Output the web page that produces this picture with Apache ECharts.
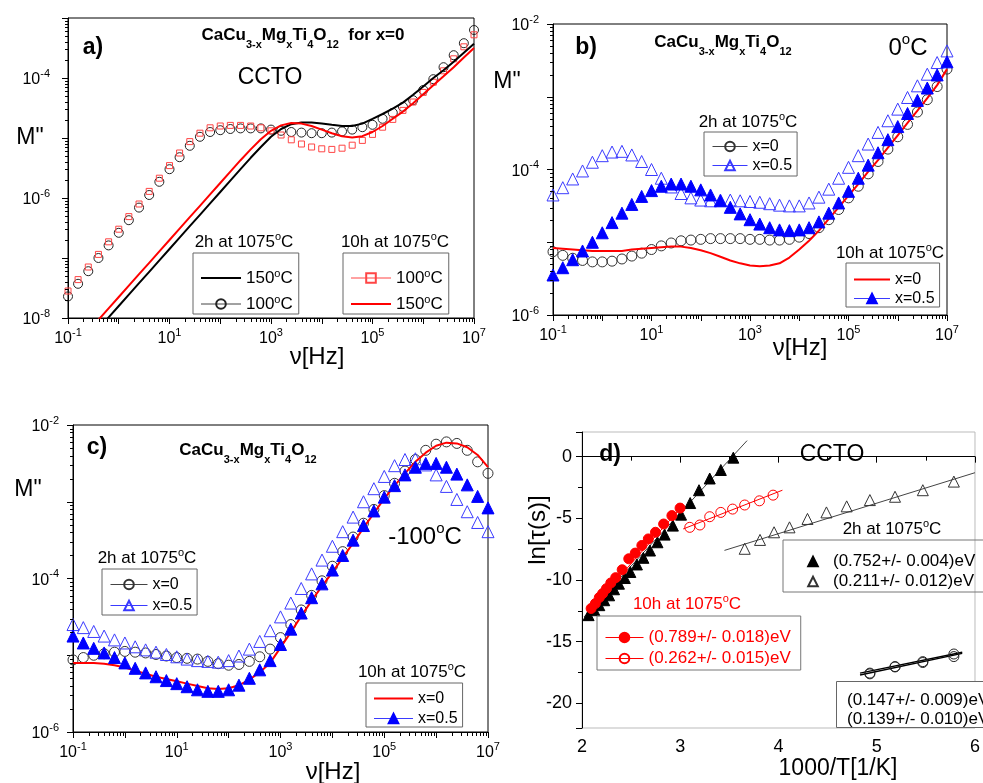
<!DOCTYPE html>
<html><head><meta charset="utf-8">
<script src="https://cdn.jsdelivr.net/npm/echarts@6/dist/echarts.min.js"></script>
<style>html,body{margin:0;padding:0;background:#fff}#c{width:983px;height:783px}</style>
</head><body><div id="c"></div><script>
const F = '"Liberation Sans", Arial, sans-serif';
// measurement frequencies (Hz), shared by panels a-c
const freq = [0.1,0.158,0.251,0.398,0.631,1,1.58,2.51,3.98,6.31,10,15.8,25.1,39.8,63.1,100,158,251,398,631,1000,1580,2510,3980,6310,1e4,1.58e4,2.51e4,3.98e4,6.31e4,1e5,1.58e5,2.51e5,3.98e5,6.31e5,1e6,1.58e6,2.51e6,3.98e6,6.31e6,1e7];
// values below are log10(M'')
// panel a
const a_2h_100C = [-7.64,-7.43,-7.22,-7.00,-6.79,-6.58,-6.37,-6.16,-5.95,-5.73,-5.52,-5.32,-5.13,-4.98,-4.90,-4.87,-4.85,-4.84,-4.84,-4.84,-4.86,-4.88,-4.90,-4.91,-4.92,-4.92,-4.91,-4.89,-4.86,-4.82,-4.78,-4.68,-4.58,-4.48,-4.37,-4.20,-4.02,-3.82,-3.62,-3.42,-3.20];
const a_10h_100C = [-7.55,-7.36,-7.15,-6.94,-6.73,-6.52,-6.31,-6.10,-5.89,-5.67,-5.46,-5.25,-5.06,-4.92,-4.83,-4.80,-4.79,-4.79,-4.80,-4.83,-4.88,-4.95,-5.03,-5.10,-5.15,-5.18,-5.19,-5.17,-5.12,-5.04,-4.94,-4.82,-4.69,-4.54,-4.40,-4.24,-4.07,-3.88,-3.68,-3.48,-3.28];
const a_2h_150C = [-8.75,-8.56,-8.37,-8.18,-7.99,-7.80,-7.61,-7.42,-7.23,-7.04,-6.85,-6.66,-6.47,-6.28,-6.09,-5.90,-5.71,-5.52,-5.33,-5.15,-4.98,-4.85,-4.77,-4.74,-4.74,-4.76,-4.78,-4.80,-4.80,-4.76,-4.68,-4.60,-4.51,-4.41,-4.28,-4.14,-4.00,-3.87,-3.73,-3.58,-3.43];
const a_10h_150C = [-8.60,-8.41,-8.22,-8.03,-7.84,-7.65,-7.46,-7.27,-7.08,-6.89,-6.70,-6.51,-6.32,-6.13,-5.94,-5.75,-5.56,-5.37,-5.19,-5.02,-4.88,-4.79,-4.75,-4.76,-4.80,-4.86,-4.92,-4.97,-4.99,-4.97,-4.90,-4.80,-4.68,-4.56,-4.42,-4.27,-4.12,-3.97,-3.82,-3.66,-3.50];
// panel b (0 C)
const b_2h_x0 = [-5.13,-5.18,-5.22,-5.25,-5.27,-5.27,-5.26,-5.23,-5.19,-5.15,-5.10,-5.05,-5.01,-4.98,-4.97,-4.96,-4.95,-4.95,-4.95,-4.95,-4.96,-4.96,-4.97,-4.97,-4.96,-4.93,-4.88,-4.80,-4.69,-4.55,-4.39,-4.23,-4.06,-3.89,-3.72,-3.55,-3.38,-3.21,-3.04,-2.86,-2.62];
const b_2h_x05 = [-4.35,-4.25,-4.13,-4.02,-3.90,-3.81,-3.76,-3.75,-3.80,-3.89,-4.00,-4.12,-4.24,-4.33,-4.39,-4.42,-4.43,-4.42,-4.42,-4.43,-4.44,-4.45,-4.47,-4.49,-4.50,-4.50,-4.46,-4.38,-4.27,-4.12,-3.97,-3.81,-3.65,-3.49,-3.33,-3.17,-3.01,-2.85,-2.69,-2.53,-2.37];
const b_10h_x0 = [-5.08,-5.09,-5.10,-5.11,-5.12,-5.12,-5.12,-5.12,-5.10,-5.09,-5.08,-5.07,-5.06,-5.06,-5.08,-5.11,-5.15,-5.20,-5.25,-5.29,-5.32,-5.33,-5.32,-5.29,-5.21,-5.10,-4.98,-4.84,-4.68,-4.52,-4.36,-4.20,-4.03,-3.87,-3.70,-3.53,-3.36,-3.19,-3.02,-2.84,-2.62];
const b_10h_x05 = [-5.45,-5.35,-5.24,-5.12,-5.00,-4.87,-4.73,-4.60,-4.48,-4.37,-4.29,-4.23,-4.20,-4.20,-4.23,-4.28,-4.35,-4.43,-4.52,-4.61,-4.69,-4.75,-4.80,-4.83,-4.84,-4.83,-4.80,-4.72,-4.60,-4.46,-4.30,-4.12,-3.94,-3.77,-3.59,-3.41,-3.23,-3.05,-2.88,-2.70,-2.52];
// panel c (-100 C)
const c_2h_x0 = [-5.06,-5.03,-5.00,-4.98,-4.96,-4.95,-4.96,-4.97,-4.99,-5.01,-5.03,-5.04,-5.05,-5.08,-5.11,-5.13,-5.12,-5.08,-5.02,-4.92,-4.77,-4.60,-4.41,-4.22,-4.03,-3.84,-3.65,-3.46,-3.28,-3.10,-2.92,-2.76,-2.60,-2.45,-2.33,-2.25,-2.22,-2.24,-2.33,-2.48,-2.63];
const c_2h_x05 = [-4.60,-4.64,-4.69,-4.75,-4.80,-4.84,-4.89,-4.93,-4.96,-4.99,-5.02,-5.05,-5.07,-5.08,-5.09,-5.07,-5.01,-4.92,-4.82,-4.68,-4.50,-4.32,-4.13,-3.94,-3.76,-3.58,-3.39,-3.20,-3.00,-2.83,-2.67,-2.53,-2.45,-2.44,-2.52,-2.65,-2.80,-2.97,-3.13,-3.27,-3.39];
const c_10h_x0 = [-5.10,-5.10,-5.10,-5.11,-5.13,-5.16,-5.20,-5.24,-5.28,-5.31,-5.34,-5.37,-5.40,-5.43,-5.44,-5.43,-5.39,-5.32,-5.22,-5.10,-4.90,-4.70,-4.49,-4.29,-4.10,-3.92,-3.73,-3.54,-3.34,-3.15,-2.96,-2.79,-2.63,-2.48,-2.36,-2.27,-2.23,-2.24,-2.29,-2.39,-2.55];
const c_10h_x05 = [-4.75,-4.84,-4.91,-4.97,-5.03,-5.10,-5.17,-5.23,-5.28,-5.33,-5.37,-5.41,-5.45,-5.47,-5.47,-5.45,-5.39,-5.30,-5.19,-5.07,-4.86,-4.66,-4.45,-4.25,-4.07,-3.89,-3.70,-3.50,-3.31,-3.12,-2.94,-2.79,-2.65,-2.55,-2.50,-2.50,-2.55,-2.64,-2.78,-2.93,-3.08];
// panel d: 1000/T and ln(tau)
const d_752_x = [2.067,2.126,2.176,2.226,2.276,2.326,2.376,2.436,2.492,2.559,2.625,2.692,2.768,2.841,2.925,3.008,3.101,3.191,3.300,3.413,3.540];
const d_752_y = [-12.85,-12.45,-12.04,-11.64,-11.24,-10.75,-10.30,-9.84,-9.35,-8.74,-8.20,-7.61,-6.94,-6.32,-5.59,-4.70,-3.76,-2.72,-1.77,-1.08,-0.08];
const d_211_x = [3.656,3.812,3.955,4.112,4.295,4.488,4.694,4.930,5.186,5.469,5.785];
const d_211_y = [-7.47,-6.75,-6.13,-5.73,-5.05,-4.52,-4.03,-3.52,-3.25,-2.72,-2.02];
const d_789_x = [2.093,2.136,2.176,2.210,2.249,2.293,2.343,2.409,2.476,2.542,2.609,2.675,2.748,2.831,2.915,2.998];
const d_789_y = [-12.31,-11.91,-11.42,-11.10,-10.70,-10.24,-9.81,-9.17,-8.28,-7.82,-7.20,-6.67,-6.13,-5.46,-4.78,-4.17];
const d_262_x = [3.097,3.200,3.300,3.413,3.533,3.656,3.806,3.945];
const d_262_y = [-5.73,-5.54,-4.87,-4.52,-4.25,-3.92,-3.58,-3.12];
const d_147_x = [4.930,5.186,5.469,5.785];
const d_147_y = [-17.61,-17.02,-16.69,-16.21];
const d_139_x = [4.930,5.186,5.469,5.785];
const d_139_y = [-17.55,-17.05,-16.62,-16.00];
// fitted straight lines [x0,x1], [y0,y1]
const fit_752 = [[2.02,3.68],[-13.0,1.3]];
const fit_211 = [[3.45,6.0],[-7.6,-1.3]];
const fit_789 = [[2.05,3.0],[-12.7,-4.2]];
const fit_262 = [[3.03,4.04],[-5.86,-2.72]];
const fit_147 = [[4.83,5.87],[-17.7,-15.95]];
const fit_139 = [[4.83,5.87],[-17.55,-15.85]];

const chart = echarts.init(document.getElementById('c'), null, {renderer:'canvas'});
const pts = lg => freq.map((f,i)=>[f, Math.pow(10, lg[i])]);
const pair = (xs,ys) => xs.map((x,i)=>[x,ys[i]]);

const AR = {b:{fontFamily:F,fontSize:16,lineHeight:20,verticalAlign:'bottom',color:'#000'},
            s:{fontFamily:F,fontSize:11,lineHeight:8,verticalAlign:'top',color:'#000'}};
const expOf = v => Math.round(Math.log10(v));
const xFmt = v => { const e = expOf(v); return Math.abs(e%2)===1 ? '{b|10}{s|'+e+'}' : ''; };
const yFmt = v => { const e = expOf(v); return e%2===0 ? '{b|10}{s|'+e+'}' : ''; };
function minorVals(e0,e1){ const r=[]; for(let e=e0;e<e1;e++) for(let k=2;k<10;k++) r.push(k*Math.pow(10,e)); return r; }

const logX = (gi,min,max)=>({type:'log',logBase:10,gridIndex:gi,min,max,interval:1,position:'bottom',
   axisLine:{lineStyle:{color:'#000',width:1}},axisTick:{length:6,lineStyle:{color:'#000'}},
   splitLine:{show:false},axisLabel:{formatter:xFmt,rich:AR,margin:9,showMinLabel:true,showMaxLabel:true}});
const logY = (gi,min,max,margin)=>({type:'log',logBase:10,gridIndex:gi,min,max,interval:1,position:'left',
   axisLine:{lineStyle:{color:'#000',width:1}},axisTick:{length:6,lineStyle:{color:'#000'}},
   splitLine:{show:false},axisLabel:{formatter:yFmt,rich:AR,margin}});

const xAxis = [logX(0,0.1,1e7), logX(1,0.1,1e7), logX(2,0.1,1e7),
  {type:'value',gridIndex:3,min:2,max:6,interval:1,position:'bottom',axisLine:{lineStyle:{color:'#000'}},
   axisTick:{length:6,lineStyle:{color:'#000'}},minorTick:{show:true,splitNumber:2,length:4,lineStyle:{color:'#000'}},
   splitLine:{show:false},axisLabel:{fontFamily:F,fontSize:18,color:'#000',margin:10}}];
const yAxis = [logY(0,1e-8,1e-3,18), logY(1,1e-6,1e-2,14), logY(2,1e-6,1e-2,14),
  {type:'value',gridIndex:3,min:-22,max:2,splitNumber:5,position:'left',axisLine:{lineStyle:{color:'#000'}},
   axisTick:{length:6,lineStyle:{color:'#000'}},minorTick:{show:true,splitNumber:2,length:4,lineStyle:{color:'#000'}},
   splitLine:{show:false},axisLabel:{fontFamily:F,fontSize:18,color:'#000',margin:10,formatter:v=>(v%5===0?String(v):'')}}];

const grid = [
  {left:68,top:18,width:406,height:300,show:true,borderColor:'#000',borderWidth:1},
  {left:553,top:24,width:394,height:291,show:true,borderColor:'#000',borderWidth:1},
  {left:73,top:425,width:415,height:307,show:true,borderColor:'#000',borderWidth:1},
  {left:582,top:432,width:402,height:296,show:true,borderColor:'#bbb',borderWidth:1}];

function mark(name, data, gi, sym, size, color, filled, z){
  return {name,type:'line',xAxisIndex:gi,yAxisIndex:gi,data,symbol:sym,symbolSize:size,showSymbol:true,
    itemStyle:{color:filled?color:'rgba(255,255,255,0)',borderColor:color,borderWidth:1},
    lineStyle:{width:0,opacity:0},emphasis:{disabled:true},z:z||2,animation:false,clip:true};
}
function curve(name, data, gi, color, width, z){
  return {name,type:'line',xAxisIndex:gi,yAxisIndex:gi,data,symbol:'none',
    itemStyle:{color},lineStyle:{width,color},emphasis:{disabled:true},z:z||3,animation:false,clip:true};
}
const RED='#ff0000', BLUE='#0000ff', LBLUE='#3a3aff';
const series = [
  mark('a2_100', pts(a_2h_100C), 0, 'circle', 9, '#222', false, 2),
  mark('a10_100', pts(a_10h_100C), 0, 'rect', 6, '#ff4545', false, 3),
  curve('a2_150', pts(a_2h_150C), 0, '#000', 2, 4),
  curve('a10_150', pts(a_10h_150C), 0, RED, 2, 5),
  mark('b2_0', pts(b_2h_x0), 1, 'circle', 10, '#333', false, 2),
  mark('b2_05', pts(b_2h_x05), 1, 'triangle', 12, LBLUE, false, 2),
  curve('b10_0', pts(b_10h_x0), 1, RED, 2, 3),
  mark('b10_05', pts(b_10h_x05), 1, 'triangle', 12, BLUE, true, 4),
  mark('c2_0', pts(c_2h_x0), 2, 'circle', 10, '#333', false, 2),
  mark('c2_05', pts(c_2h_x05), 2, 'triangle', 12, LBLUE, false, 2),
  curve('c10_0', pts(c_10h_x0), 2, RED, 2, 3),
  mark('c10_05', pts(c_10h_x05), 2, 'triangle', 12, BLUE, true, 4),
  curve('fit752', pair(fit_752[0],fit_752[1]), 3, '#444', 1, 1),
  curve('fit211', pair(fit_211[0],fit_211[1]), 3, '#444', 1, 1),
  curve('fit789', pair(fit_789[0],fit_789[1]), 3, RED, 1, 1),
  curve('fit262', pair(fit_262[0],fit_262[1]), 3, RED, 1, 1),
  curve('fit147', pair(fit_147[0],fit_147[1]), 3, '#000', 1.5, 1),
  curve('fit139', pair(fit_139[0],fit_139[1]), 3, '#000', 1.5, 1),
  mark('d752', pair(d_752_x,d_752_y), 3, 'triangle', 11, '#000', true, 2),
  mark('d211', pair(d_211_x,d_211_y), 3, 'triangle', 11, '#333', false, 2),
  mark('d789', pair(d_789_x,d_789_y), 3, 'circle', 10, RED, true, 3),
  mark('d262', pair(d_262_x,d_262_y), 3, 'circle', 10, RED, false, 3),
  mark('d147', pair(d_147_x,d_147_y), 3, 'circle', 10, '#222', false, 3),
  mark('d139', pair(d_139_x,d_139_y), 3, 'circle', 10, '#222', false, 3)
];

const LT = {a2_150:'150{o|o}C',a2_100:'100{o|o}C',a10_100:'100{o|o}C',a10_150:'150{o|o}C',
  b2_0:'x=0',b2_05:'x=0.5',b10_0:'x=0',b10_05:'x=0.5',c2_0:'x=0',c2_05:'x=0.5',c10_0:'x=0',c10_05:'x=0.5',
  d752:'(0.752+/- 0.004)eV',d211:'(0.211+/- 0.012)eV',d789:'(0.789+/- 0.018)eV',d262:'(0.262+/- 0.015)eV'};
const LR = {o:{fontFamily:F,fontSize:11,lineHeight:8,verticalAlign:'top'}};
function leg(left, top, items, o){
  return Object.assign({left, top, orient:'vertical', selectedMode:false, data:items,
    formatter:n=>LT[n], borderColor:'#666', borderWidth:1, borderRadius:0,
    itemWidth:40, itemHeight:12, itemGap:6, padding:[15,6,0,7],
    textStyle:{fontFamily:F,fontSize:17,color:'#000',lineHeight:20,rich:LR}}, o||{});
}
const L = (name,color)=>({name, lineStyle:{color, width:1, opacity:1}});   // marker + thin line
const P = name=>({name, itemStyle:{opacity:0}});                           // plain line only
const TS16 = {fontFamily:F,fontSize:16,color:'#000',lineHeight:17};
const legend = [
  leg(193,253,[P('a2_150'), L('a2_100','#444')]),
  leg(343,253,[L('a10_100','#ff4545'), P('a10_150')]),
  leg(704,132,[L('b2_0','#444'), L('b2_05',LBLUE)],{itemWidth:35,itemGap:2,padding:[6,5,2,8],textStyle:TS16}),
  leg(846,263,[P('b10_0'), L('b10_05',LBLUE)],{itemWidth:36,itemGap:2,padding:[8,5,0,7],textStyle:TS16}),
  leg(102,569,[L('c2_0','#444'), L('c2_05',LBLUE)],{itemWidth:37,itemGap:4,padding:[7,5,1,8],textStyle:TS16}),
  leg(366,683,[P('c10_0'), L('c10_05',LBLUE)],{itemWidth:39,itemGap:3,padding:[7,5,0,7],textStyle:TS16}),
  leg(783,540,['d752','d211'],{itemWidth:30,itemHeight:12,itemGap:1,padding:[12,10,1,15],borderColor:'#777',textStyle:{fontFamily:F,fontSize:17,color:'#000',lineHeight:19}}),
  leg(597,616,[L('d789',RED), L('d262',RED)],{itemWidth:38,itemHeight:12,itemGap:2,padding:[12,10,2,8],borderColor:'#777',textStyle:{fontFamily:F,fontSize:17,color:RED,lineHeight:19}})
];

const RICH = {
  n:{fontFamily:F,fontSize:17,lineHeight:20,verticalAlign:'bottom'},
  o:{fontFamily:F,fontSize:11,lineHeight:9,verticalAlign:'top'},
  N:{fontFamily:F,fontSize:24,lineHeight:28,verticalAlign:'bottom'},
  O:{fontFamily:F,fontSize:15,lineHeight:12,verticalAlign:'top'},
  m:{fontFamily:F,fontSize:17,fontWeight:'bold',lineHeight:20,verticalAlign:'top'},
  s:{fontFamily:F,fontSize:11,fontWeight:'bold',lineHeight:10,verticalAlign:'top',padding:[12,0,0,0]}
};
function T(x,y,text,o){ return {type:'text',x,y,silent:true,z:100,style:Object.assign({text,fontFamily:F,fontSize:17,fill:'#000',align:'center',verticalAlign:'middle',rich:RICH},o||{})}; }
const formula = '{m|CaCu}{s|3-x}{m|Mg}{s|x}{m|Ti}{s|4}{m|O}{s|12}';
const graphic = [
  // panel a
  T(93,48,'a)',{fontSize:23,fontWeight:'bold'}),
  T(303,37,formula+'{m|  for x=0}'),
  T(270,78,'CCTO',{fontSize:23}),
  T(30,138,'M"',{fontSize:23}),
  T(317,357,'ν[Hz]',{fontSize:24}),
  T(244,241,'{n|2h at 1075}{o|o}{n|C}'),
  T(395,241,'{n|10h at 1075}{o|o}{n|C}'),
  // panel b
  T(586,48,'b)',{fontSize:23,fontWeight:'bold'}),
  T(723,44,formula),
  T(908,46,'{N|0}{O|o}{N|C}'),
  T(507,82,'M"',{fontSize:23}),
  T(800,348,'ν[Hz]',{fontSize:24}),
  T(748,121,'{n|2h at 1075}{o|o}{n|C}'),
  T(890,252,'{n|10h at 1075}{o|o}{n|C}'),
  // panel c
  T(97,448,'c)',{fontSize:23,fontWeight:'bold'}),
  T(248,452,formula),
  T(28,490,'M"',{fontSize:23}),
  T(425,535,'{N|-100}{O|o}{N|C}'),
  T(333,772,'ν[Hz]',{fontSize:24}),
  T(147,557,'{n|2h at 1075}{o|o}{n|C}'),
  T(412,671,'{n|10h at 1075}{o|o}{n|C}'),
  // panel d
  T(610,455,'d)',{fontSize:23,fontWeight:'bold'}),
  T(832,455,'CCTO',{fontSize:23}),
  T(892,528,'{n|2h at 1075}{o|o}{n|C}'),
  T(687,603,'{n|10h at 1075}{o|o}{n|C}',{fill:RED}),
  T(838,769,'1000/T[1/K]',{fontSize:23}),
  {type:'text',x:538,y:530,rotation:Math.PI/2,silent:true,z:100,style:{text:'ln[τ(s)]',fontFamily:F,fontSize:24,fill:'#000',align:'center',verticalAlign:'middle'}},
  {type:'rect',shape:{x:836.5,y:681.5,width:160,height:46},silent:true,z:50,style:{fill:'#fff',stroke:'#666',lineWidth:1}},
  T(847,700,'(0.147+/- 0.009)eV',{align:'left'}),
  T(847,719,'(0.139+/- 0.010)eV',{align:'left'})
];

chart.setOption({animation:false, backgroundColor:'#fff', grid, xAxis, yAxis, series, legend, graphic});

// minor log ticks (2..9 x 10^n), positioned through each axis' own scale
const tickLines = [];
function addMinor(gi, dim, vals, fixed){
  vals.forEach(v=>{
    const p = chart.convertToPixel({xAxisIndex:gi, yAxisIndex:gi}, dim==='x' ? [v, fixed] : [fixed, v]);
    if (!p || !isFinite(p[0]) || !isFinite(p[1])) return;
    const x = Math.round(p[0])+0.5, y = Math.round(p[1])+0.5;
    tickLines.push({type:'line', silent:true, z:90,
      shape: dim==='x' ? {x1:x,y1:y,x2:x,y2:y+3.5} : {x1:x,y1:y,x2:x-3.5,y2:y},
      style:{stroke:'#000', lineWidth:1}});
  });
}
addMinor(0,'x',minorVals(-1,7),1e-8); addMinor(0,'y',minorVals(-8,-3),0.1);
addMinor(1,'x',minorVals(-1,7),1e-6); addMinor(1,'y',minorVals(-6,-2),0.1);
addMinor(2,'x',minorVals(-1,7),1e-6); addMinor(2,'y',minorVals(-6,-2),0.1);
chart.setOption({graphic: graphic.concat(tickLines)});
</script></body></html>
